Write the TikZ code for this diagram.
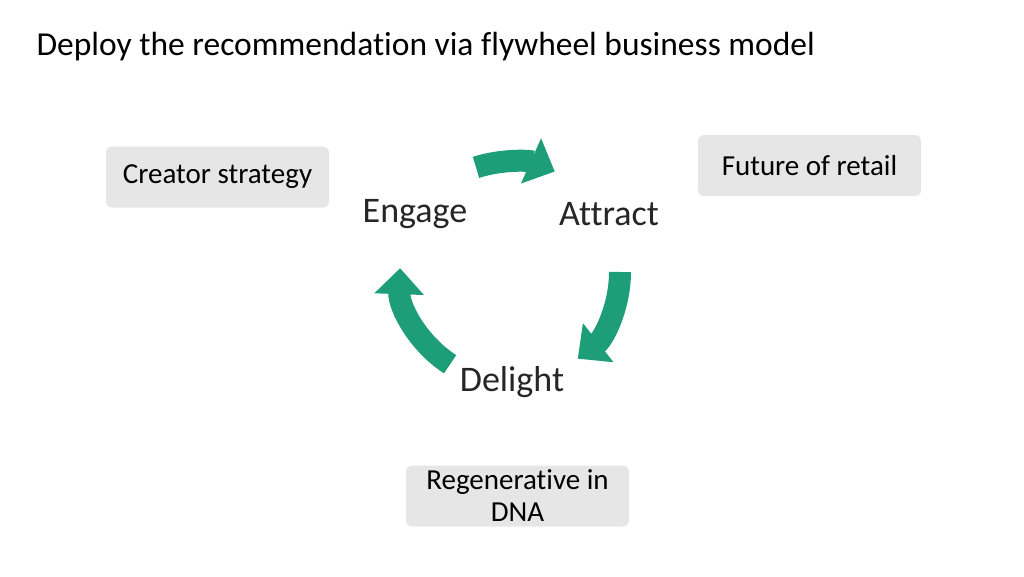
\documentclass[tikz,border=0pt]{standalone}
\usepackage{fontspec}
\setmainfont{Carlito}[Ligatures=NoCommon]
\usetikzlibrary{arrows.meta,calc}
\definecolor{fly}{HTML}{1E9E78}
\definecolor{boxg}{HTML}{E6E6E6}
\begin{document}
\begin{tikzpicture}[x=1pt,y=-1pt,
 box/.style={fill=boxg,rounded corners=6pt,minimum width=223pt,minimum height=61pt,font=\fontsize{29}{34}\selectfont,align=center,inner sep=0pt},
 lab/.style={font=\fontsize{36}{40}\selectfont,text=black!85},
 fw/.style={fly,line width=22pt,-{Triangle[width=48pt,length=26pt]}}]
\useasboundingbox (0,0) rectangle (1024,576);
\node[anchor=west,font=\fontsize{33.5}{38}\selectfont] (t) at (33,47) {Deploy the recommendation via flywheel business model};
\node[box] (cs) at (217.5,177) {Creator strategy};
\node[box] (fr) at (809.5,165.5) {Future of retail};
\node[box] (rd) at (517.5,496) {Regenerative in\\[-2pt]DNA};
\node[lab] (en) at (415,214) {Engage};
\node[lab] (at) at (609,214) {Attract};
\node[lab] (de) at (512,382) {Delight};
\coordinate (c) at (510,272);
\draw[fw] ($(c)+(-108:110)$) arc[start angle=-108,end angle=-66,radius=110];
\draw[fw] ($(c)+(0:110)$) arc[start angle=0,end angle=52,radius=110];
\draw[fw] ($(c)+(123:110)$) arc[start angle=123,end angle=182,radius=110];
\end{tikzpicture}
\end{document}
